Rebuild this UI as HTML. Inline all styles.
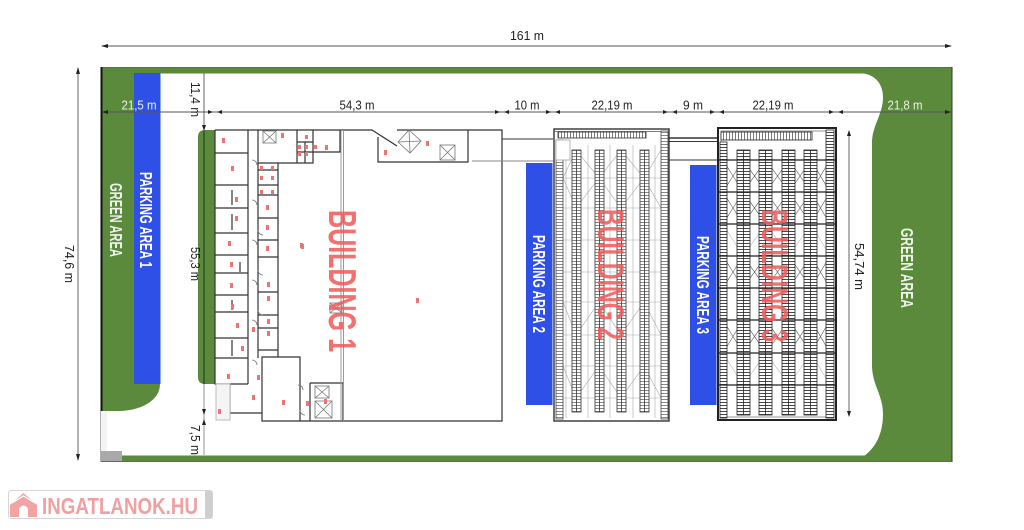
<!DOCTYPE html>
<html><head><meta charset="utf-8">
<style>
html,body{margin:0;padding:0;background:#fff;width:1024px;height:530px;overflow:hidden}
svg{display:block}
text{font-family:"Liberation Sans",sans-serif}
</style></head><body>
<svg width="1024" height="530" viewBox="0 0 1024 530" xmlns="http://www.w3.org/2000/svg">
<defs>
<pattern id="rg" width="4" height="3" patternUnits="userSpaceOnUse"><rect width="4" height="3" fill="#fff"/><line x1="0" y1="0.5" x2="4" y2="0.5" stroke="#6a6a6a" stroke-width="0.8"/></pattern>
<pattern id="rgh" width="3" height="4" patternUnits="userSpaceOnUse"><rect width="3" height="4" fill="#fff"/><line x1="0.5" y1="0" x2="0.5" y2="4" stroke="#555" stroke-width="0.8"/></pattern>
<pattern id="rg3" width="4" height="3" patternUnits="userSpaceOnUse"><rect width="4" height="3" fill="#fff"/><line x1="0" y1="0.5" x2="4" y2="0.5" stroke="#333" stroke-width="0.9"/></pattern>
</defs>

<!-- ===== site greens ===== -->
<rect x="101" y="67.5" width="851" height="394" fill="#fff" stroke="#666" stroke-width="1"/>
<rect x="101" y="68" width="851" height="5.5" fill="#5b8a3c"/>
<rect x="122" y="455.5" width="830" height="6" fill="#5b8a3c"/>
<rect x="101" y="451" width="21" height="11" fill="#a9a9a9"/>
<rect x="101" y="411" width="6" height="40" fill="#f3f3f3"/>
<path d="M101,68 H160 V384 C160,400 142,411 117,411 H101 Z" fill="#5b8a3c"/>
<rect x="134" y="73" width="26.5" height="311" fill="#2e50e6"/>
<line x1="101.5" y1="67" x2="101.5" y2="411" stroke="#111" stroke-width="2"/>
<!-- right green -->
<path d="M858,68 H952 V461 H855 C870,455 883,440 883,414 C883,395 872,385 872,365 L872,143 C872,125 883,115 883,97 C883,84 875,73 858,73 Z" fill="#5b8a3c"/>
<line x1="952" y1="67" x2="952" y2="462" stroke="#333" stroke-width="1"/>
<line x1="101" y1="461.5" x2="952" y2="461.5" stroke="#666" stroke-width="1"/>
<!-- building 1 green strip -->
<path d="M215,130 H205 Q198,130 198,137 V377 Q198,384 205,384 H215 Z" fill="#5b8a3c"/>
<line x1="204" y1="131" x2="204" y2="384" stroke="#2b4a1c" stroke-width="1.3"/>

<!-- ===== parking blues ===== -->
<rect x="526" y="163" width="26.5" height="242" fill="#2e50e6"/>
<rect x="690" y="165" width="26.5" height="240" fill="#2e50e6"/>

<!-- ===== dimension lines ===== -->
<g stroke="#555" stroke-width="0.9" fill="none">
<line x1="102" y1="46" x2="951" y2="46"/>
<line x1="78" y1="68" x2="78" y2="460"/>
<line x1="102" y1="112" x2="951" y2="112"/>
<line x1="204" y1="73" x2="204" y2="131"/>
<line x1="204" y1="384" x2="204" y2="455" stroke="#888"/>
<line x1="849" y1="131" x2="849" y2="416"/>
</g>
<g fill="#222">
<polygon points="101,46 108,44 108,48"/><polygon points="952,46 945,44 945,48"/>
<polygon points="78,67 76,74 80,74"/><polygon points="78,461 76,454 80,454"/>
<polygon points="102,112 108,110 108,114"/><polygon points="951,112 945,110 945,114"/>
<polygon points="213,112 208,110 208,114"/><polygon points="217,112 222,110 222,114"/>
<polygon points="500,112 495,110 495,114"/><polygon points="504,112 509,110 509,114"/>
<polygon points="551,112 546,110 546,114"/><polygon points="555,112 560,110 560,114"/>
<polygon points="668,112 663,110 663,114"/><polygon points="672,112 677,110 677,114"/>
<polygon points="715,112 710,110 710,114"/><polygon points="719,112 724,110 724,114"/>
<polygon points="834,112 829,110 829,114"/><polygon points="838,112 843,110 843,114"/>
<polygon points="204,131 202,125 206,125"/>
<polygon points="204,415 202,409 206,409"/><polygon points="204,419 202,425 206,425"/>
<polygon points="849,130 847,136 851,136"/><polygon points="849,417 847,411 851,411"/>
</g>

<!-- dimension labels -->
<g font-size="12.5" fill="#222">
<text x="527" y="40" text-anchor="middle" textLength="34" lengthAdjust="spacingAndGlyphs">161 m</text>
<text x="139" y="109.5" text-anchor="middle" fill="#e9efe4" textLength="35" lengthAdjust="spacingAndGlyphs">21,5 m</text>
<text x="357" y="109.5" text-anchor="middle" textLength="35" lengthAdjust="spacingAndGlyphs">54,3 m</text>
<text x="527" y="109.5" text-anchor="middle" textLength="25" lengthAdjust="spacingAndGlyphs">10 m</text>
<text x="612" y="109.5" text-anchor="middle" textLength="41" lengthAdjust="spacingAndGlyphs">22,19 m</text>
<text x="693" y="109.5" text-anchor="middle" textLength="20" lengthAdjust="spacingAndGlyphs">9 m</text>
<text x="773" y="109.5" text-anchor="middle" textLength="41" lengthAdjust="spacingAndGlyphs">22,19 m</text>
<text x="905" y="109.5" text-anchor="middle" fill="#e9efe4" textLength="35" lengthAdjust="spacingAndGlyphs">21,8 m</text>
<text transform="translate(65,245) rotate(90)" textLength="38" lengthAdjust="spacingAndGlyphs">74,6 m</text>
<text transform="translate(191,82) rotate(90)" textLength="35" lengthAdjust="spacingAndGlyphs">11,4 m</text>
<text transform="translate(191,247) rotate(90)" textLength="34" lengthAdjust="spacingAndGlyphs">55,3 m</text>
<text transform="translate(191,425) rotate(90)" textLength="30" lengthAdjust="spacingAndGlyphs">7,5 m</text>
<text transform="translate(855,243) rotate(90)" textLength="47" lengthAdjust="spacingAndGlyphs">54,74 m</text>
</g>

<!-- ===== BUILDING 1 ===== -->
<g stroke="#333" stroke-width="1.2" fill="none">
<path d="M215,130 H372 L397,146"/>
<path d="M397,130 H502 V421 H300"/>
<path d="M378,137 V162 H468 V130"/>
<path d="M215,130 V384 H248"/>
<line x1="248" y1="130" x2="248" y2="384"/>
<line x1="258" y1="163" x2="258" y2="358"/>
<line x1="278" y1="163" x2="278" y2="350"/>
<path d="M215,153 H248 M215,185 H248 M215,208 H248 M215,233 H248 M215,255 H248 M215,273 H248 M215,295 H248 M215,312 H248 M215,338 H248 M215,358 H248"/>
<path d="M258,170 H278 M258,185 H278 M258,195 H278 M258,218 H278 M258,240 H278 M258,257 H278 M258,292 H278 M258,315 H278 M258,328 H278 M258,350 H278"/>
<path d="M258,130 V163 H297 V130 M297,163 H313 V130 M297,142 H313 M297,152 H313 M305,142 V163 M313,152 H340 V130"/>
<path d="M278,350 V357 H262 V421 H300 V357 H278"/>
<path d="M230,384 V413 H262"/>
<path d="M310,383 H343 V421 M310,383 V421"/>
<path d="M232,190 V205 M232,214 V230 M232,300 V310 M232,340 V356 M240,262 V272"/>
</g>
<rect x="216" y="384" width="14" height="36" fill="#f4f4f4" stroke="#bbb" stroke-width="1"/>
<line x1="341" y1="130" x2="341" y2="421" stroke="#999" stroke-width="1"/>
<line x1="343.5" y1="130" x2="343.5" y2="421" stroke="#999" stroke-width="1"/>
<g stroke="#777" stroke-width="0.8" fill="none">
<rect x="263" y="131" width="13" height="12"/><path d="M263,131 L276,143 M276,131 L263,143"/>
<polygon points="409,130 421,141 410,153 398,142"/><path d="M409,130 L410,153 M398,142 L421,141"/>
<rect x="440" y="145" width="15" height="15"/><path d="M440,145 L455,160 M455,145 L440,160"/>
<rect x="315" y="386" width="14" height="12"/><path d="M315,386 L329,398 M329,386 L315,398"/>
<rect x="315" y="401" width="17" height="17"/><path d="M315,401 L332,418 M332,401 L315,418"/>
<rect x="330" y="303" width="12" height="10"/><path d="M330,303 L342,313 M342,303 L330,313"/>
<path d="M252,160 a5,5 0 0 1 5,5 M252,200 a5,5 0 0 1 5,5 M252,240 a5,5 0 0 1 5,5 M252,280 a5,5 0 0 1 5,5 M252,320 a5,5 0 0 1 5,5 M252,360 a5,5 0 0 1 5,5 M258,230 a5,5 0 0 0 5,5 M258,270 a5,5 0 0 0 5,5 M258,310 a5,5 0 0 0 5,5 M298,385 a5,5 0 0 1 5,5 M300,410 a5,5 0 0 0 5,5"/>
</g>
<g stroke="#333" stroke-width="1" fill="none">
<line x1="502" y1="139" x2="553" y2="139"/>
</g>
<line x1="472" y1="161" x2="553" y2="161" stroke="#888" stroke-width="1"/>
<!-- red marks -->
<g fill="#ee7474">
<rect x="222" y="138" width="3" height="5"/><rect x="231" y="166" width="3" height="5"/><rect x="281" y="133" width="3" height="5"/>
<rect x="305" y="135" width="3" height="4"/><rect x="298" y="145" width="3" height="4"/><rect x="305" y="145" width="3" height="4"/>
<rect x="298" y="152" width="3" height="4"/><rect x="305" y="152" width="3" height="4"/><rect x="314" y="145" width="3" height="4"/>
<rect x="325" y="145" width="3" height="5"/><rect x="260" y="166" width="3" height="4"/><rect x="260" y="176" width="3" height="4"/>
<rect x="271" y="166" width="3" height="4"/><rect x="271" y="176" width="3" height="4"/><rect x="260" y="190" width="3" height="4"/>
<rect x="271" y="190" width="3" height="4"/><rect x="235" y="197" width="3" height="5"/><rect x="235" y="216" width="3" height="5"/>
<rect x="266" y="205" width="3" height="5"/><rect x="266" y="225" width="3" height="5"/><rect x="228" y="241" width="3" height="5"/>
<rect x="266" y="246" width="3" height="5"/><rect x="230" y="262" width="3" height="5"/><rect x="300" y="243" width="3" height="5"/>
<rect x="230" y="283" width="3" height="5"/><rect x="267" y="282" width="3" height="5"/><rect x="267" y="296" width="3" height="5"/>
<rect x="231" y="304" width="3" height="5"/><rect x="236" y="323" width="3" height="5"/><rect x="252" y="327" width="3" height="5"/>
<rect x="267" y="319" width="3" height="5"/><rect x="267" y="331" width="3" height="5"/><rect x="241" y="346" width="3" height="5"/>
<rect x="227" y="374" width="3" height="5"/><rect x="257" y="375" width="3" height="5"/><rect x="252" y="395" width="3" height="5"/>
<rect x="282" y="400" width="3" height="5"/><rect x="306" y="401" width="3" height="5"/><rect x="324" y="399" width="3" height="5"/>
<rect x="218" y="409" width="3" height="5"/><rect x="416" y="298" width="3" height="5"/><rect x="384" y="150" width="3" height="5"/>
<rect x="426" y="141" width="3" height="5"/><rect x="301" y="244" width="3" height="5"/>
</g>

<!-- ===== BUILDING 2 ===== -->
<rect x="554" y="129" width="115" height="292" fill="#fff" stroke="#333" stroke-width="1.4"/>
<line x1="554" y1="131.5" x2="669" y2="131.5" stroke="#555" stroke-width="0.7"/>
<g stroke="#aaa" stroke-width="0.6" fill="none">
<path d="M556,178 H668 M556,208 H668 M556,240 H668 M556,272 H668 M556,302 H668 M556,335 H668 M556,366 H668 M556,398 H668"/>
<path d="M563,178 L576,150 L599,178 L621,150 L644,178 L661,150 M563,178 L576,208 L599,178 L621,208 L644,178 L661,208 M563,366 L576,398 L599,366 L621,398 L644,366 L661,398 M563,302 L576,335 L599,302 L621,335 L644,302 L661,335"/>
<path d="M566,145 V418 M588,145 V418 M610,145 V418 M633,145 V418 M655,145 V418"/>
</g>
<rect x="558" y="132" width="88" height="6" fill="url(#rgh)" stroke="#333" stroke-width="0.8"/>
<rect x="556" y="140" width="7" height="279" fill="url(#rg)" stroke="#444" stroke-width="0.8"/>
<rect x="661" y="131" width="7" height="288" fill="url(#rg)" stroke="#444" stroke-width="0.8"/>
<g stroke="#333" stroke-width="0.8">
<rect x="572" y="150" width="9" height="262" fill="url(#rg)"/>
<rect x="595" y="150" width="9" height="262" fill="url(#rg)"/>
<rect x="617" y="150" width="9" height="262" fill="url(#rg)"/>
<rect x="640" y="150" width="9" height="262" fill="url(#rg)"/>
<path d="M576.5,150 V412 M599.5,150 V412 M621.5,150 V412 M644.5,150 V412"/>
</g>
<rect x="556" y="140" width="14" height="20" fill="#fff" stroke="#999" stroke-width="0.7"/>
<!-- corridor 2-3 -->
<g stroke="#333" fill="none">
<line x1="669" y1="138" x2="718" y2="138" stroke-width="1.6"/>
<line x1="669" y1="141.5" x2="718" y2="141.5" stroke-width="0.9"/>
<line x1="669" y1="160" x2="718" y2="160" stroke-width="1"/>
</g>

<!-- ===== BUILDING 3 ===== -->
<rect x="718" y="128" width="118" height="292" fill="#fff" stroke="#222" stroke-width="2"/>
<rect x="721" y="131" width="112" height="286" fill="none" stroke="#666" stroke-width="0.7"/>
<g stroke="#555" stroke-width="0.6" fill="none">
<path d="M723,160 L743,192 L766,160 L789,192 L811,160 L830,192 M723,192 L743,160 L766,192 L789,160 L811,192 L830,160"/>
<path d="M723,192 L743,224 L766,192 L789,224 L811,192 L830,224 M723,224 L743,192 L766,224 L789,192 L811,224 L830,192"/>
<path d="M723,256 L743,288 L766,256 L789,288 L811,256 L830,288 M723,288 L743,256 L766,288 L789,256 L811,288 L830,256"/>
<path d="M723,320 L743,353 L766,320 L789,353 L811,320 L830,353 M723,353 L743,320 L766,353 L789,320 L811,353 L830,320"/>
<path d="M723,224 L743,256 L766,224 L789,256 L811,224 L830,256 M723,353 L743,385 L766,353 L789,385 L811,353 L830,385" stroke="#bbb"/>
</g>
<rect x="721" y="132" width="91" height="8" fill="url(#rgh)" stroke="#222" stroke-width="0.8"/>
<rect x="720" y="142" width="7" height="276" fill="url(#rg3)" stroke="#222" stroke-width="0.8"/>
<rect x="826" y="130" width="8" height="288" fill="url(#rg3)" stroke="#222" stroke-width="0.8"/>
<g stroke="#222" stroke-width="0.8">
<rect x="737" y="150" width="13" height="265" fill="url(#rg3)"/>
<rect x="759" y="150" width="13" height="265" fill="url(#rg3)"/>
<rect x="782" y="150" width="13" height="265" fill="url(#rg3)"/>
<rect x="804" y="150" width="13" height="265" fill="url(#rg3)"/>
<path d="M743.5,150 V415 M765.5,150 V415 M788.5,150 V415 M810.5,150 V415"/>
</g>
<path d="M718,160 H836 M718,192 H836 M718,224 H836 M718,256 H836 M718,288 H836 M718,320 H836 M718,353 H836 M718,385 H836" stroke="#222" stroke-width="1.3"/>

<!-- ===== big labels ===== -->
<g font-weight="bold" fill="#f05c5c" fill-opacity="0.88">
<text transform="translate(329,210) rotate(90)" font-size="39" textLength="142" lengthAdjust="spacingAndGlyphs">BUILDING 1</text>
<text transform="translate(598,209) rotate(90)" font-size="37" textLength="131" lengthAdjust="spacingAndGlyphs">BUILDING 2</text>
<text transform="translate(762,209) rotate(90)" font-size="37" textLength="133" lengthAdjust="spacingAndGlyphs">BUILDING 3</text>
</g>
<g font-weight="bold" fill="#fff" font-size="17.5">
<text transform="translate(110,183) rotate(90)" textLength="74" lengthAdjust="spacingAndGlyphs" fill="#eef3ea">GREEN AREA</text>
<text transform="translate(140,172) rotate(90)" textLength="96" lengthAdjust="spacingAndGlyphs">PARKING AREA 1</text>
<text transform="translate(533,235) rotate(90)" textLength="98" lengthAdjust="spacingAndGlyphs">PARKING AREA 2</text>
<text transform="translate(697,236) rotate(90)" textLength="98" lengthAdjust="spacingAndGlyphs">PARKING AREA 3</text>
<text transform="translate(901,228) rotate(90)" textLength="80" lengthAdjust="spacingAndGlyphs" fill="#eef3ea">GREEN AREA</text>
</g>

<!-- ===== logo ===== -->
<rect x="8.5" y="490.5" width="204" height="28" rx="3" fill="#fff" stroke="#d6d6d6" stroke-width="1"/>
<rect x="205" y="491" width="7.5" height="27" fill="#cfcfcf"/>
<polygon points="10,505 23.5,493 37,505 37,517 10,517" fill="#f2a3a3"/>
<polyline points="12,503 23.5,496 35,503" fill="none" stroke="#fff" stroke-width="1.2"/>
<path d="M19,517 V510 a4.5,4.5 0 0 1 9,0 V517 Z" fill="#fff"/>
<text x="42" y="514" font-size="23" font-weight="bold" fill="#f0a0a0" textLength="156" lengthAdjust="spacingAndGlyphs">INGATLANOK.HU</text>
</svg>
</body></html>
